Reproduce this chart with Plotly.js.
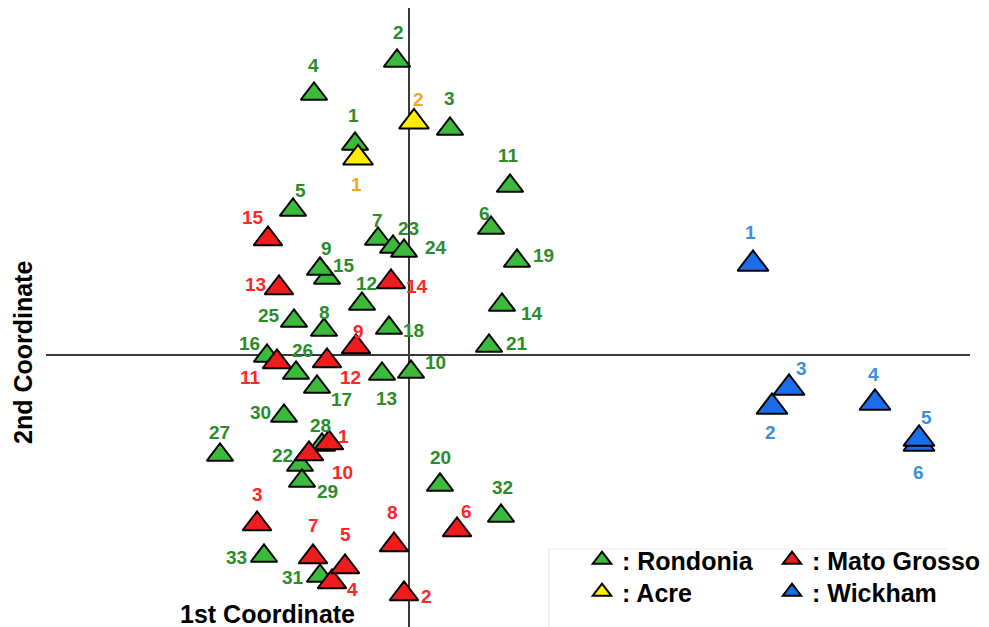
<!DOCTYPE html>
<html><head><meta charset="utf-8">
<script src="https://cdn.plot.ly/plotly-3.0.1.min.js"></script>
<style>html,body{margin:0;padding:0;background:#fff;} #chart{width:989px;height:627px;}</style>
</head><body><div id="chart"></div>
<script>
// ---- Data (PCoA coordinates) ----
const rondoniaIds = ['1','2','3','4','5','6','7','8','15','9','10','11','12','13','14','16','17','18','19','20','21','22','23','24','25','26','27','28','29','30','31','32','33'];
const rondoniaX = [-0.54,-0.12,0.41,-0.95,-1.16,0.82,-0.31,-0.85,-0.82,-0.89,0.02,1.01,-0.47,-0.27,0.93,-1.42,-0.92,-0.20,1.08,0.31,0.80,-1.09,-0.16,-0.05,-1.15,-1.13,-1.89,-0.87,-1.07,-1.25,-0.89,0.92,-1.45];
const rondoniaY = [2.11,2.94,2.26,2.61,1.45,1.27,1.16,0.25,0.77,0.86,-0.17,1.69,0.51,-0.19,0.50,-0.01,-0.32,0.27,0.94,-1.30,0.09,-1.10,1.08,1.04,0.34,-0.18,-1.00,-0.90,-1.26,-0.61,-2.21,-1.61,-2.01];

const acreIds = ['1','2'];
const acreX = [-0.51,0.05];
const acreY = [1.97,2.33];

const matoGrossoIds = ['1','2','3','4','5','6','7','8','9','10','11','12','13','14','15'];
const matoGrossoX = [-0.80,-0.05,-1.52,-0.77,-0.64,0.48,-0.96,-0.15,-0.53,-1.00,-1.32,-0.82,-1.30,-0.18,-1.41];
const matoGrossoY = [-0.88,-2.39,-1.69,-2.27,-2.12,-1.75,-2.02,-1.90,0.08,-0.99,-0.07,-0.06,0.67,0.73,1.16];

const wickhamIds = ['1','3','2','4','6','5'];
const wickhamX = [3.44,3.80,3.63,4.66,5.10,5.10];
const wickhamY = [0.91,-0.33,-0.52,-0.48,-0.89,-0.84];

// ---- Label placement (pixel offsets of each number from its triangle) ----
const rondoniaLabelDx = [-2,1,-1,-1,7,-7,-1,0,17,6,24,-2,4,4,30,-18,24,24,26,0,28,-18,15,32,-25,6,-1,-2,25,-24,-27,1,-28];
const rondoniaLabelDy = [-26,-26,-28,-26,-17,-12,-16,-15,-10,-18,-7,-28,-18,27,11,-10,15,5,-3,-25,0,-7,-16,-1,-3,-20,-20,-17,13,-1,4,-26,4];
const acreLabelDx = [-2,4];
const acreLabelDy = [30,-19];
const matoGrossoLabelDx = [14,22,0,20,0,9,0,-2,2,33,-27,23,-24,26,-15];
const matoGrossoLabelDy = [-3,6,-26,11,-29,-15,-28,-29,-12,22,19,20,0,8,-18];
const wickhamLabelDx = [-3,12,-2,-2,-1,7];
const wickhamLabelDy = [-28,-16,29,-25,32,-18];

const FONT = 'Liberation Sans, Arial, Helvetica, sans-serif';

const groups = [
  {name: ': Rondonia', ids: rondoniaIds, x: rondoniaX, y: rondoniaY, dx: rondoniaLabelDx, dy: rondoniaLabelDy,
   fill: '#3cba3c', label: '#2a8c2a', size: 23, legend: 'legend'},
  {name: ': Acre', ids: acreIds, x: acreX, y: acreY, dx: acreLabelDx, dy: acreLabelDy,
   fill: '#ffee00', label: '#f5a623', size: 26, legend: 'legend3'},
  {name: ': Mato Grosso', ids: matoGrossoIds, x: matoGrossoX, y: matoGrossoY, dx: matoGrossoLabelDx, dy: matoGrossoLabelDy,
   fill: '#ee1c1c', label: '#ff2626', size: 25, legend: 'legend2'},
  {name: ': Wickham', ids: wickhamIds, x: wickhamX, y: wickhamY, dx: wickhamLabelDx, dy: wickhamLabelDy,
   fill: '#1c6ee8', label: '#3a8fdc', size: 27, legend: 'legend4'}
];

const traces = groups.map(g => ({
  type: 'scatter', mode: 'markers', name: g.name, x: g.x, y: g.y,
  legend: g.legend,
  marker: {symbol: 'triangle-up', size: g.size, color: g.fill, line: {color: '#000', width: 2}},
  hoverinfo: 'skip'
}));

const annotations = [];
groups.forEach(g => {
  g.ids.forEach((id, i) => {
    annotations.push({
      x: g.x[i], y: g.y[i], xref: 'x', yref: 'y', text: id, showarrow: false,
      xshift: g.dx[i], yshift: g.size / 8 - g.dy[i],
      font: {family: FONT, size: 19, color: g.label, weight: 'bold'}
    });
  });
});
annotations.push({
  x: 267/989, y: 1 - 614/627, xref: 'paper', yref: 'paper', text: '1st Coordinate', showarrow: false,
  xanchor: 'center', yanchor: 'middle',
  font: {family: FONT, size: 25, color: '#000', weight: 'bold'}
});
annotations.push({
  x: 23/989, y: 1 - 353/627, xref: 'paper', yref: 'paper', text: '2nd Coordinate', showarrow: false,
  xanchor: 'center', yanchor: 'middle', textangle: -90,
  font: {family: FONT, size: 25, color: '#000', weight: 'bold'}
});

const legendFont = {family: FONT, size: 25, color: '#000', weight: 'bold'};
function legendAt(px, py) {
  return {x: px/989, xanchor: 'left', y: 1 - py/627, yanchor: 'top', orientation: 'v',
          bgcolor: 'rgba(0,0,0,0)', borderwidth: 0, font: legendFont, tracegroupgap: 0};
}
const layout = {
  width: 989, height: 627,
  margin: {l: 0, r: 0, t: 0, b: 0},
  paper_bgcolor: '#fff', plot_bgcolor: '#fff',
  xaxis: {range: [-4.09, 5.80], showgrid: false, zeroline: false, showticklabels: false, ticks: '', showline: false, fixedrange: true},
  yaxis: {range: [-2.72, 3.55], showgrid: false, zeroline: false, showticklabels: false, ticks: '', showline: false, fixedrange: true},
  showlegend: true,
  legend: legendAt(582, 537),
  legend2: legendAt(772, 537),
  legend3: legendAt(582, 569),
  legend4: legendAt(772, 569),
  shapes: [
    {type: 'line', xref: 'x', yref: 'y', x0: -3.63, x1: 5.61, y0: 0, y1: 0, layer: 'below', line: {color: '#3a3a3a', width: 2}},
    {type: 'line', xref: 'x', yref: 'y', x0: 0, x1: 0, y0: 3.47, y1: -2.72, layer: 'below', line: {color: '#3a3a3a', width: 2}},
    {type: 'line', xref: 'paper', yref: 'paper', x0: 549/989, x1: 549/989, y0: 1 - 549/627, y1: 0, layer: 'below', line: {color: '#e4e4e4', width: 1}},
    {type: 'line', xref: 'paper', yref: 'paper', x0: 549/989, x1: 948/989, y0: 1 - 549/627, y1: 1 - 549/627, layer: 'below', line: {color: '#ececec', width: 1}}
  ],
  annotations: annotations
};

Plotly.newPlot('chart', traces, layout, {staticPlot: true, displayModeBar: false});
</script>
</body></html>
